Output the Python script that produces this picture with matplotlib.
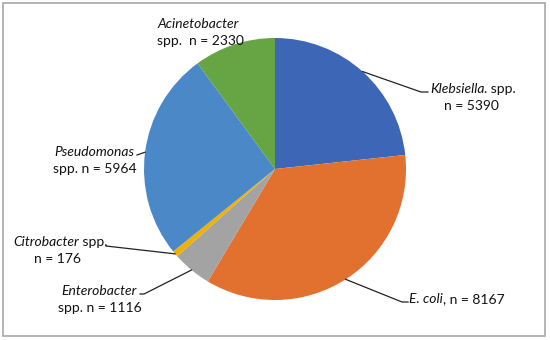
import numpy as np
import matplotlib.pyplot as plt
from matplotlib.patches import Rectangle

# clockwise from 12 o'clock
species = ["Klebsiella", "E. coli", "Enterobacter", "Citrobacter", "Pseudomonas", "Acinetobacter"]
counts = [5390, 8167, 1116, 176, 5964, 2330]
colors = ["#3d66b6", "#e2702f", "#a3a3a3", "#f1b100", "#4a88c8", "#66a444"]

# layout in image pixels (y measured from the top)
W, H = 550, 340
cx, cy, R = 275, 169, 131

plt.rcParams['font.family'] = ['Lato', 'DejaVu Sans']
fig = plt.figure(figsize=(5.5, 3.4), dpi=100)
ax = fig.add_axes([0, 0, 1, 1])

wedges, _ = ax.pie(counts, colors=colors, startangle=90, counterclock=False,
                   center=(cx, H - cy), radius=R, frame=True,
                   wedgeprops=dict(linewidth=0))
ax.set_xlim(0, W)
ax.set_ylim(0, H)
ax.axis('off')

ax.add_patch(Rectangle((3, 4), 542, 333, fill=False, edgecolor='#a8a8a8', linewidth=1.2))

fs = 10


def rich(x, y, parts, ha='left'):
    # one line made of (text, italic) parts
    r = fig.canvas.get_renderer()
    texts = []
    for s, it in parts:
        t = ax.text(0, H - y, s, fontsize=fs, style='italic' if it else 'normal',
                    va='center', ha='left', color='#111111')
        texts.append(t)
    widths = [t.get_window_extent(r).width for t in texts]
    total = sum(widths)
    if ha == 'center':
        x0 = x - total / 2
    elif ha == 'right':
        x0 = x - total
    else:
        x0 = x
    for t, w in zip(texts, widths):
        t.set_x(x0)
        x0 += w


def anchor(i):
    total = sum(counts)
    start = 90 - 360 * sum(counts[:i]) / total
    mid = np.deg2rad(start - 180 * counts[i] / total)
    return cx + R * np.cos(mid), cy - R * np.sin(mid)


def leader(i, pts):
    x0, y0 = anchor(i)
    xs = [x0] + [p[0] for p in pts]
    ys = [H - y0] + [H - p[1] for p in pts]
    ax.plot(xs, ys, color='#222222', linewidth=0.9)


# Klebsiella
rich(430, 89, [("Klebsiella", True), (". spp.", False)])
rich(471, 106, [("n = 5390", False)], ha='center')
leader(0, [(421, 92), (428, 92)])

# E. coli
rich(409, 299, [("E. coli", True), (", n = 8167", False)])
leader(1, [(402, 302), (408, 302)])

# Enterobacter
rich(137, 291, [("Enterobacter", True)], ha='right')
rich(100, 308, [("spp. n = 1116", False)], ha='center')
leader(2, [(144, 294), (140, 294)])

# Citrobacter
rich(13, 242, [("Citrobacter", True), (" spp.", False)])
rich(58, 259, [("n = 176", False)], ha='center')
leader(3, [(106, 246)])

# Pseudomonas
rich(134, 152, [("Pseudomonas", True)], ha='right')
rich(95, 169, [("spp. n = 5964", False)], ha='center')
leader(4, [(137, 155)])

# Acinetobacter
rich(157, 24, [("Acinetobacter", True)])
rich(157, 41, [("spp.  n = 2330", False)])

fig.savefig("out.png", dpi=100)
